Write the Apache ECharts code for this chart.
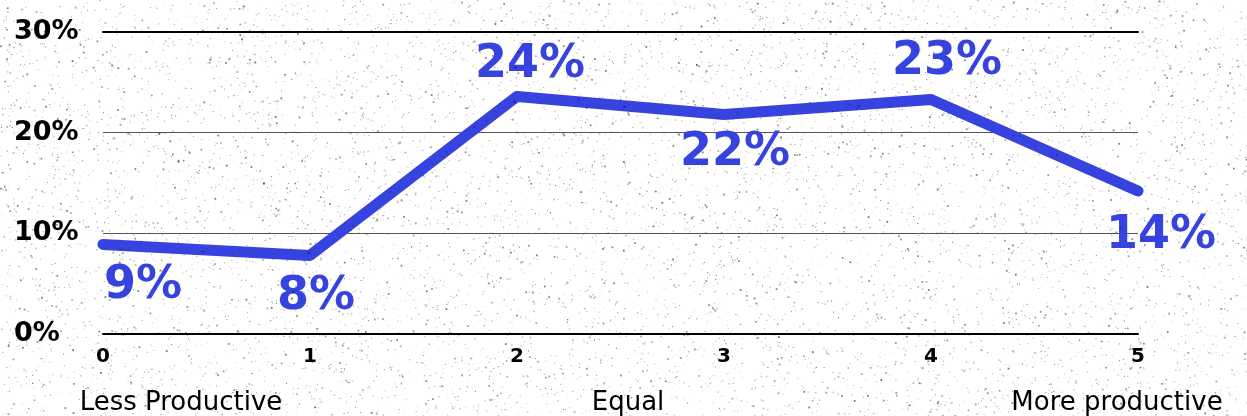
<!DOCTYPE html>
<html>
<head>
<meta charset="utf-8">
<script src="https://cdn.jsdelivr.net/npm/echarts@6/dist/echarts.min.js"></script>
<style>
  html, body { margin: 0; padding: 0; background: #fff; }
  #wrap { position: relative; width: 1247px; height: 416px; }
  #chart, #grain, #grainTop { position: absolute; left: 0; top: 0; width: 1247px; height: 416px; }
  #grainTop { pointer-events: none; }
</style>
</head>
<body>
<div id="wrap">
  <canvas id="grain" width="1247" height="416"></canvas>
  <div id="chart"></div>
  <canvas id="grainTop" width="1247" height="416"></canvas>
</div>
<script>
// Productivity rating scale (0 = less productive, 5 = more productive)
const categories = ['0', '1', '2', '3', '4', '5'];
// Share of respondents per rating, in percent
const shares = [8.9, 7.8, 23.6, 21.8, 23.3, 14.2];
// Y axis ticks
const yTicks = [0, 10, 20, 30];
// Scale anchor captions under the axis
const scaleNotes = ['Less Productive', 'Equal', 'More productive'];

// Label nudges for each point, [dx, dy] from the point
const labelNudge = [[40, 42], [6, 42], [13, -31], [11, 39], [16, -37], [23, 45]];
const noteCenters = [181, 628, 1117];

const BLUE = '#3743de';
const DISPLAY_FONT = '"DejaVu Sans", sans-serif';

// Paper grain: small deterministic specks
function grain(canvasId, count, minAlpha, maxAlpha, seed) {
  const c = document.getElementById(canvasId);
  const ctx = c.getContext('2d');
  let s = seed;
  const rnd = () => { s = (s * 1664525 + 1013904223) >>> 0; return s / 4294967296; };
  for (let i = 0; i < count; i++) {
    const x = rnd() * 1247, y = rnd() * 416;
    const a = minAlpha + rnd() * (maxAlpha - minAlpha);
    const r = rnd() < 0.2 ? 1.7 : 1;
    ctx.fillStyle = 'rgba(0,0,0,' + a.toFixed(3) + ')';
    ctx.fillRect(x, y, r, r);
  }
}
grain('grain', 7000, 0.05, 0.55, 12345);
grain('grainTop', 2000, 0.1, 0.6, 987);

const chart = echarts.init(document.getElementById('chart'), null, { renderer: 'canvas' });

const seriesData = shares.map((v, i) => ({
  value: v,
  label: { offset: labelNudge[i] }
}));

chart.setOption({
  backgroundColor: 'transparent',
  animation: false,
  grid: { left: 103, right: 109, top: 32, bottom: 82 },
  xAxis: [
    {
      type: 'category',
      data: categories,
      boundaryGap: false,
      position: 'bottom',
      axisLine: { show: true, lineStyle: { color: '#000', width: 2 } },
      axisTick: { show: false },
      axisLabel: {
        margin: 13,
        color: '#000',
        fontFamily: DISPLAY_FONT,
        fontWeight: 'bold',
        fontSize: 20
      }
    },
    {
      type: 'category',
      data: categories,
      boundaryGap: false,
      position: 'top',
      axisLine: { show: true, lineStyle: { color: '#000', width: 2 } },
      axisTick: { show: false },
      axisLabel: { show: false }
    }
  ],
  yAxis: {
    type: 'value',
    min: yTicks[0],
    max: yTicks[yTicks.length - 1],
    interval: yTicks[1] - yTicks[0],
    axisLine: { show: false },
    axisTick: { show: false },
    splitLine: { lineStyle: { color: '#555', width: 1 } },
    axisLabel: {
      align: 'left',
      margin: 89,
      color: '#000',
      fontFamily: DISPLAY_FONT,
      fontWeight: 'bold',
      fontSize: 27,
      formatter: v => v + '%'
    }
  },
  series: [{
    type: 'line',
    data: seriesData,
    symbol: 'circle',
    symbolSize: 8,
    itemStyle: { color: BLUE },
    lineStyle: { color: BLUE, width: 11, cap: 'round', join: 'round' },
    label: {
      show: true,
      position: 'inside',
      color: BLUE,
      fontFamily: DISPLAY_FONT,
      fontWeight: 'bold',
      fontSize: 46,
      formatter: p => Math.round(p.value) + '%'
    },
    z: 3
  }],
  graphic: scaleNotes.map((t, i) => ({
    type: 'text',
    x: noteCenters[i],
    y: 403,
    style: {
      text: t,
      fill: '#000',
      font: '26px "DejaVu Sans", sans-serif',
      textAlign: 'center',
      textVerticalAlign: 'middle'
    }
  }))
});
</script>
</body>
</html>
